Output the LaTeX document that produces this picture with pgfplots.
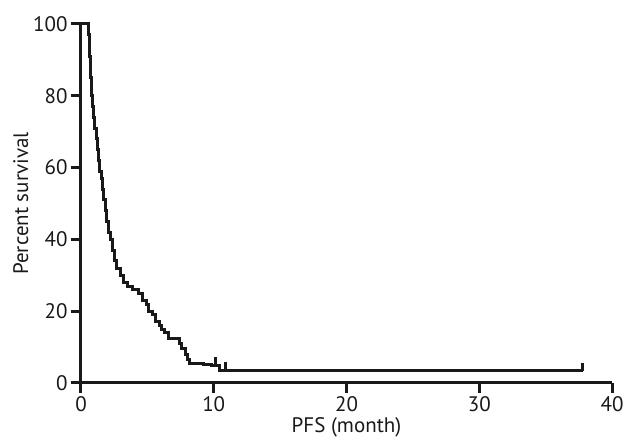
\documentclass[border=0pt]{standalone}
\usepackage{fontspec}
\setmainfont{PT Sans}
\usepackage{pgfplots}
\pgfplotsset{compat=1.18}
\begin{document}
\begin{tikzpicture}
\useasboundingbox (-81pt,-58pt) rectangle (548pt,383pt);
\begin{axis}[
  scale only axis, width=531pt, height=359pt,
  xmin=0, xmax=40, ymin=0, ymax=100,
  axis lines=left, axis line style={-, line width=3pt, black!90},
  xtick={0,10,20,30,40}, ytick={0,20,40,60,80,100},
  tick align=outside, major tick length=10pt,
  tick style={line width=3pt, black!90},
  /pgf/number format/assume math mode=true,
  tick label style={font=\fontsize{21}{25}\selectfont, text=black!90},
  label style={font=\fontsize{21}{25}\selectfont, text=black!90},
  xlabel={PFS (month)}, ylabel={Percent survival},
  xlabel style={yshift=1pt},
  ylabel style={yshift=-2pt},
  clip=false,
]
\addplot[const plot, line width=3pt, black!90] coordinates {
(0,100) (0.6,97) (0.64,94) (0.67,91) (0.7,88) (0.73,85) (0.76,82) (0.79,80)
(0.87,77) (0.96,74) (1.05,71) (1.15,68) (1.25,65) (1.33,62) (1.42,59)
(1.52,57) (1.62,54) (1.72,51) (1.82,48) (1.95,45) (2.08,42) (2.2,40)
(2.35,37) (2.5,34) (2.65,32) (2.95,30) (3.2,28) (3.5,27) (3.9,26)
(4.3,25) (4.6,23) (4.9,22) (5.1,20) (5.4,19) (5.6,17) (5.9,16) (6.1,15)
(6.3,14) (6.6,12.5) (7.4,11) (7.6,9.5) (7.85,8) (8.0,6.5) (8.15,5.5)
(9.2,5.2) (9.8,5) (10.4,3.4) (37.8,3.4)
};
\addplot[line width=3pt, black!90] coordinates {(37.8,3.4) (37.8,5.6)};
\addplot[line width=3pt, black!90] coordinates {(10.1,5) (10.1,7.2)};
\addplot[line width=3pt, black!90] coordinates {(10.85,3.4) (10.85,5.8)};
\end{axis}
\end{tikzpicture}
\end{document}
